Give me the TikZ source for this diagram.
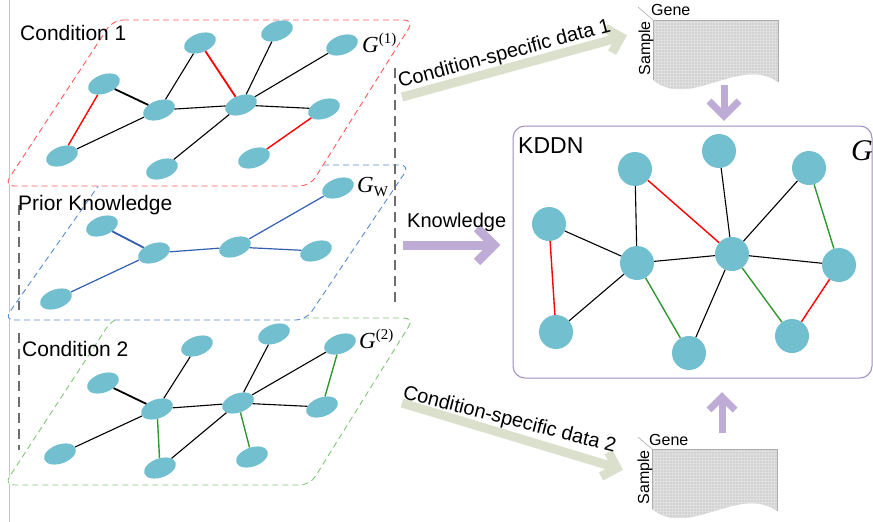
\documentclass[tikz,border=0pt]{standalone}
\usepackage{fontspec}
\setmainfont{Liberation Sans}
\newfontfamily\seriffont{Liberation Serif}
\usetikzlibrary{shapes.geometric,calc}
\definecolor{nodecol}{RGB}{114,191,208}
\definecolor{greenE}{RGB}{50,150,50}
\definecolor{blueE}{RGB}{50,95,175}
\definecolor{redbox}{RGB}{255,90,90}
\definecolor{bluebox}{RGB}{90,140,210}
\definecolor{greenbox}{RGB}{130,200,120}
\definecolor{purpleB}{RGB}{160,140,190}
\definecolor{purpleA}{RGB}{190,172,214}
\definecolor{oliveA}{RGB}{219,224,204}
\definecolor{tabfill}{RGB}{210,210,210}
\definecolor{tabgrid}{RGB}{224,224,224}
\definecolor{tabline}{RGB}{175,175,175}
\definecolor{dashgray}{RGB}{110,110,110}
\begin{document}
\begin{tikzpicture}[x=1pt,y=-1pt,
  ell/.style={ellipse, fill=nodecol, draw=none, minimum width=33pt, minimum height=19pt, inner sep=0pt, rotate=20},
  kn/.style={circle, fill=nodecol, draw=none, minimum size=34pt, inner sep=0pt},
  bk/.style={black, line width=1.1pt},
  bkt/.style={black, line width=1.8pt},
  re/.style={red, line width=1.4pt},
  ge/.style={greenE, line width=1.4pt},
  be/.style={blueE, line width=1.2pt},
  bet/.style={blueE, line width=1.8pt},
  layerbox/.style={dash pattern=on 6pt off 4pt, line width=0.9pt, fill=white, rounded corners=10pt},
  stackline/.style={draw=dashgray, line width=1.2pt, dash pattern=on 10pt off 6pt},
  lbl/.style={inner sep=0pt, font=\fontsize{21}{24}\selectfont},
  smalllbl/.style={inner sep=0pt, font=\fontsize{16}{18}\selectfont},
  arrlbl/.style={inner sep=0pt, font=\fontsize{20}{23}\selectfont},
  gl/.style={inner sep=0pt, font=\fontsize{23}{26}\selectfont\seriffont},
  parrow/.style={draw=purpleA, line width=7pt, line join=miter},
  karrow/.style={draw=purpleA, line width=9pt, line join=miter},
  oarrow/.style={draw=oliveA, line width=9pt, line join=miter},
  tabgridline/.style={draw=tabgrid, line width=0.4pt}
]
\useasboundingbox (0,0) rectangle (873,522);

% left border line
\draw[gray!45, line width=0.8pt] (9,0) -- (9,522);

% layer boxes (green, blue, red)
\draw[layerbox, draw=greenbox] (113,318) -- (414,318) -- (310,485) -- (4,485) -- cycle;
\draw[layerbox, draw=bluebox] (113,165) -- (410,165) -- (306,320) -- (4,320) -- cycle;
\draw[layerbox, draw=redbox] (113,20) -- (414,20) -- (310,186) -- (4,186) -- cycle;

% stacking dashed lines
\draw[stackline] (19,205) -- (19,310);
\draw[stackline] (19,333) -- (19,450);
\draw[stackline] (395,68) -- (395,305);

% labels
\node[lbl, anchor=base west] (c1) at (20,40) {Condition 1};
\node[lbl, anchor=base west] (pk) at (18,210) {Prior Knowledge};
\node[lbl, anchor=base west] (c2) at (22,356) {Condition 2};
\node[gl, anchor=base west] (g1) at (362,52) {\itshape G\upshape\raisebox{8.5pt}{\fontsize{15}{15}\selectfont(1)}};
\node[gl, anchor=base west] (gw) at (357,192) {\itshape G\upshape\raisebox{-4pt}{\fontsize{15}{15}\selectfont W}};
\node[gl, anchor=base west] (g2) at (359,348) {\itshape G\upshape\raisebox{9pt}{\fontsize{15}{15}\selectfont(2)}};

% Condition 1 graph
\node[ell] (a1) at (200,43) {};
\node[ell] (a2) at (277,31) {};
\node[ell] (a3) at (342,45) {};
\node[ell] (a4) at (104,84) {};
\node[ell] (a5) at (159,110) {};
\node[ell] (a6) at (241,105) {};
\node[ell] (a7) at (324,109) {};
\node[ell] (a8) at (62,156) {};
\node[ell] (a9) at (162,169) {};
\node[ell] (a10) at (254,158) {};
\draw[bkt] (a4) -- (a5);
\draw[re] (a4) -- (a8);
\draw[bk] (a8) -- (a5);
\draw[bk] (a5) -- (a1);
\draw[bk] (a5) -- (a6);
\draw[re, line width=1.8pt] (a1) -- (a6);
\draw[bk] (a2) -- (a6);
\draw[bk] (a3) -- (a6);
\draw[bk] (a6) -- (a7);
\draw[bk] (a6) -- (a9);
\draw[re] (a7) -- (a10);

% Prior knowledge graph
\node[ell] (p1) at (102,226) {};
\node[ell] (p2) at (154,253) {};
\node[ell] (p3) at (235,247) {};
\node[ell] (p4) at (338,188) {};
\node[ell] (p5) at (316,251) {};
\node[ell] (p6) at (56,299) {};
\draw[bet] (p1) -- (p2);
\draw[be] (p2) -- (p3);
\draw[be] (p3) -- (p4);
\draw[be] (p3) -- (p5);
\draw[be] (p2) -- (p6);

% Condition 2 graph
\node[ell] (q1) at (197,346) {};
\node[ell] (q2) at (274,334) {};
\node[ell] (q3) at (340,344) {};
\node[ell] (q4) at (103,383) {};
\node[ell] (q5) at (157,409) {};
\node[ell] (q6) at (238,403) {};
\node[ell] (q7) at (322,407) {};
\node[ell] (q8) at (60,454) {};
\node[ell] (q9) at (160,468) {};
\node[ell] (q10) at (252,457) {};
\draw[bkt] (q4) -- (q5);
\draw[bk] (q8) -- (q5);
\draw[bk] (q5) -- (q1);
\draw[bk] (q5) -- (q6);
\draw[ge] (q5) -- (q9);
\draw[bk] (q6) -- (q2);
\draw[bk] (q6) -- (q3);
\draw[bk] (q6) -- (q7);
\draw[bk] (q6) -- (q9);
\draw[ge] (q6) -- (q10);
\draw[ge] (q3) -- (q7);

% data table 1
\coordinate (t1tl) at (653,20);
\begin{scope}
  \path[clip] (653,20) -- (778,20) -- (778,82) .. controls (740,55) and (690,110) .. (653,80) -- cycle;
  \fill[tabfill] (650,15) rectangle (780,95);
  \foreach \gx in {655,658,...,778} \draw[tabgridline] (\gx,15) -- (\gx,95);
  \foreach \gy in {22,25,...,94} \draw[tabgridline] (650,\gy) -- (780,\gy);
\end{scope}
\draw[tabline, line width=0.6pt] (653,80) -- (653,20) -- (778,20) -- (778,82);
\draw[tabline, line width=0.6pt] (638,7) -- (t1tl);
\node[smalllbl, anchor=base west] (gene1) at (651,16) {Gene};
\node[smalllbl, rotate=90, anchor=base east] (samp1) at (650,21) {Sample};

% data table 2
\coordinate (t2tl) at (652,449);
\begin{scope}[shift={(-1,429)}]
  \path[clip] (653,20) -- (778,20) -- (778,82) .. controls (740,55) and (690,110) .. (653,80) -- cycle;
  \fill[tabfill] (650,15) rectangle (780,95);
  \foreach \gx in {655,658,...,778} \draw[tabgridline] (\gx,15) -- (\gx,95);
  \foreach \gy in {22,25,...,94} \draw[tabgridline] (650,\gy) -- (780,\gy);
\end{scope}
\draw[tabline, line width=0.6pt] (652,509) -- (652,449) -- (777,449) -- (777,511);
\draw[tabline, line width=0.6pt] (638,437) -- (t2tl);
\node[smalllbl, anchor=base west] (gene2) at (649,445) {Gene};
\node[smalllbl, rotate=90, anchor=base east] (samp2) at (649,450) {Sample};

% KDDN box
\draw[draw=purpleB, line width=1pt, rounded corners=12pt] (513,126) rectangle (872,378);
\node[inner sep=0pt, anchor=base west, font=\fontsize{23}{26}\selectfont] (kddn) at (518,153) {KDDN};
\node[inner sep=0pt, anchor=base west, font=\fontsize{30}{32}\selectfont\seriffont\itshape] (gk) at (851,160) {G};

\node[kn] (k1) at (549,224) {};
\node[kn] (k2) at (635,169) {};
\node[kn] (k3) at (719,151) {};
\node[kn] (k4) at (809,168) {};
\node[kn] (k5) at (637,263) {};
\node[kn] (k6) at (732,254) {};
\node[kn] (k7) at (839,265) {};
\node[kn] (k8) at (556,332) {};
\node[kn] (k9) at (689,353) {};
\node[kn] (k10) at (792,336) {};
\draw[bk] (k1) -- (k5);
\draw[re] (k1) -- (k8);
\draw[bk] (k8) -- (k5);
\draw[bk] (k2) -- (k5);
\draw[re] (k2) -- (k6);
\draw[bk] (k5) -- (k6);
\draw[ge] (k5) -- (k9);
\draw[bk] (k3) -- (k6);
\draw[bk] (k4) -- (k6);
\draw[ge] (k4) -- (k7);
\draw[bk] (k6) -- (k7);
\draw[bk] (k6) -- (k9);
\draw[ge] (k6) -- (k10);
\draw[re] (k7) -- (k10);

% purple arrows
\coordinate (d1s) at (724,85);
\coordinate (d1t) at (724,116);
\draw[parrow] (d1s) -- (d1t);
\draw[parrow] ($(d1t)+(-15,-15)$) -- (d1t) -- ($(d1t)+(15,-15)$);

\coordinate (u1s) at (722,433);
\coordinate (u1t) at (722,397);
\draw[parrow] (u1s) -- (u1t);
\draw[parrow] ($(u1t)+(-13,13)$) -- (u1t) -- ($(u1t)+(13,13)$);

\coordinate (ks) at (403,245);
\coordinate (kt) at (494,245);
\draw[karrow] (ks) -- (kt);
\draw[karrow] ($(kt)+(-17,-17)$) -- (kt) -- ($(kt)+(-17,17)$);
\node[arrlbl, anchor=base west] (kl) at (407,227) {Knowledge};

% olive arrows
\coordinate (o1s) at (402,97);
\coordinate (o1t) at (621,37);
\draw[oarrow] (o1s) -- (o1t);
\draw[oarrow] ($(o1t)+(119.6:18)$) -- (o1t) -- ($(o1t)+(209.6:18)$);
\node[arrlbl, rotate=15, anchor=base west] (ol1) at (400,88) {Condition-specific data 1};

\coordinate (o2s) at (402,403);
\coordinate (o2t) at (617,468);
\draw[oarrow] (o2s) -- (o2t);
\draw[oarrow] ($(o2t)+(151.9:18)$) -- (o2t) -- ($(o2t)+(241.9:18)$);
\node[arrlbl, rotate=-14.4, anchor=base west] (ol2) at (402,398) {Condition-specific data 2};
\end{tikzpicture}
\end{document}
